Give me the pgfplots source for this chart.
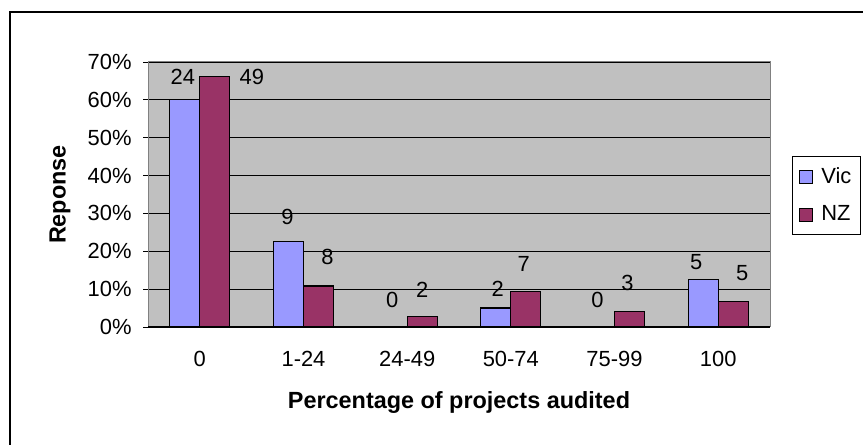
\documentclass[border=0pt]{standalone}
\usepackage{fontspec}
\setmainfont{Liberation Sans}
\usepackage{pgfplots}
\pgfplotsset{compat=1.18}
\usepackage{pgfplotstable}
\definecolor{vic}{RGB}{153,153,255}
\definecolor{nz}{RGB}{153,51,102}
\definecolor{plotbg}{RGB}{192,192,192}
\definecolor{framegray}{RGB}{128,128,128}

% x = category index, y = percentage of respondents, lab = count shown above bar
\pgfplotstableread{
x y lab dx dy
0 60 24 -2 23
1 22.5 9 -1 25
2 0 0 0 27
3 5 2 2 19
4 0 0 -2 27
5 12.5 5 -7 18
}\vicdata
\pgfplotstableread{
x y lab dx dy
0 66.22 49 37 -1
1 10.81 8 9 29
2 2.70 2 0 27
3 9.46 7 -2 27
4 4.05 3 -2 28.5
5 6.76 5 9 28
}\nzdata

\begin{document}
\fontsize{22}{25}\selectfont
\begin{tikzpicture}[x=1bp,y=1bp]
\useasboundingbox (0,0) rectangle (863,445);
\draw[line width=1.3bp] (10,0) -- (10,433) -- (863,433);
\begin{axis}[
  at={(148bp,118bp)}, anchor=south west,
  width=622bp, height=265bp, scale only axis,
  ybar=0pt, bar width=30bp,
  xmin=-0.5, xmax=5.5, ymin=0, ymax=70,
  xtick={0,1,2,3,4,5},
  xticklabels={0,1-24,24-49,50-74,75-99,100},
  x tick style={draw=none},
  minor xtick={-0.5,0.5,1.5,2.5,3.5,4.5,5.5},
  minor x tick style={black, line width=0.8bp},
  minor tick length=5bp,
  major tick length=5bp,
  tick align=outside,
  tick pos=left,
  ytick={0,10,...,70},
  yticklabel={\pgfmathprintnumber{\tick}\%},
  y tick style={black, line width=0.8bp},
  ymajorgrids,
  major grid style={black, line width=0.8bp},
  axis background/.style={fill=plotbg},
  axis line style={framegray, line width=1bp},
  tick label style={font=\fontsize{22}{25}\selectfont},
  /pgf/number format/assume math mode=true,
  xticklabel style={anchor=base, yshift=-35bp},
  yticklabel style={anchor=east, xshift=-4bp},
  xlabel={\bfseries Percentage of projects audited},
  ylabel={\bfseries Reponse},
  label style={font=\fontsize{23.5}{27}\selectfont},
  xlabel style={at={(axis description cs:0.5,-0.3057)}, anchor=base},
  ylabel style={at={(axis description cs:-0.1415,0.5)}, anchor=center},
  nodes near coords,
  point meta=explicit symbolic,
  visualization depends on={\thisrow{dx} \as \labdx},
  visualization depends on={\thisrow{dy} \as \labdy},
  nodes near coords style={anchor=center, xshift=\labdx bp, yshift=\labdy bp, font=\fontsize{22}{25}\selectfont, black},
  legend style={at={(1.0354,0.6453)}, anchor=north west, draw=black, line width=0.6bp, fill=white,
    inner xsep=7bp, inner ysep=9bp, row sep=15bp,
    /tikz/every odd column/.append style={column sep=6bp},
    font=\fontsize{22}{25}\selectfont},
  legend cell align=left,
  sqlegend/.style={legend image code/.code={\draw[##1, draw=black, line width=1bp] (0bp,-6.5bp) rectangle (13bp,6.5bp);}},
]
\addplot[fill=vic, draw=black, line width=1.2bp, sqlegend] table[x=x, y=y, meta=lab] {\vicdata};
\addplot[fill=nz, draw=black, line width=1.2bp, sqlegend] table[x=x, y=y, meta=lab] {\nzdata};
\legend{Vic, NZ}
\draw[black, line width=1bp] (rel axis cs:0,0) -- (rel axis cs:1,0);
\end{axis}
\end{tikzpicture}
\end{document}
